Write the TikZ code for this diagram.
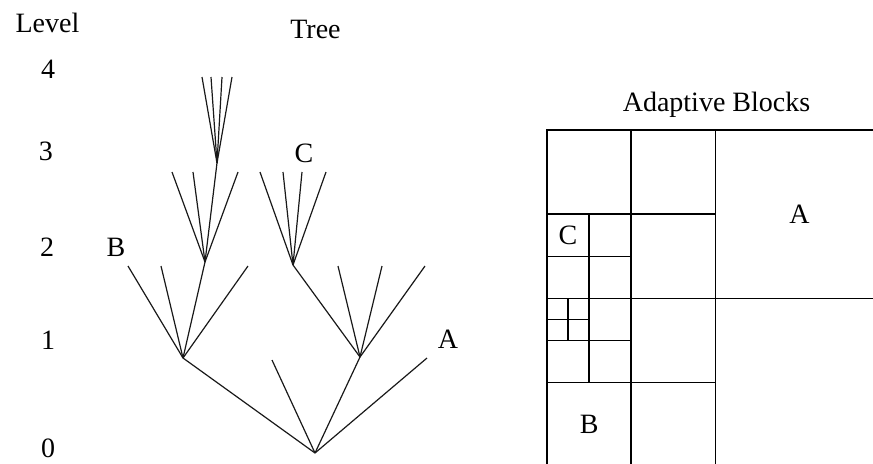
\documentclass[tikz,border=0pt]{standalone}
\usepackage{fontspec}
\setmainfont{Liberation Serif}
\begin{document}
\begin{tikzpicture}[x=0.5pt,y=-0.5pt,
  lbl/.style={inner sep=0pt,font=\fontsize{14}{16}\selectfont},
  edge/.style={line width=0.6pt,black!90},
  blk/.style={line width=0.8pt,black}]
\useasboundingbox (0,0) rectangle (873,463);
\clip (0,0) rectangle (873,463);
% ---------- labels ----------
\node[lbl] (level) at (47.5,23) {Level};
\node[lbl] (lv4) at (48,69.5) {4};
\node[lbl] (lv3) at (46,151) {3};
\node[lbl] (lv2) at (47,247) {2};
\node[lbl] (lv1) at (48,340) {1};
\node[lbl] (lv0) at (48,448) {0};
\node[lbl] (tree) at (315.5,29) {Tree};
\node[lbl] (lB) at (116,247) {B};
\node[lbl] (lA) at (448,339) {A};
\node[lbl] (lC) at (304,153) {C};
% ---------- tree ----------
\coordinate (r0) at (315,453);
\coordinate (n1a) at (183,358);
\coordinate (e01) at (272,360);
\coordinate (n1b) at (360,357);
\coordinate (e02) at (427,358);
\coordinate (e1a1) at (128,266);
\coordinate (e1a2) at (161,266);
\coordinate (n2a) at (205,262);
\coordinate (e1a4) at (248,266);
\coordinate (n2b) at (293,265);
\coordinate (e1b2) at (338,266);
\coordinate (e1b3) at (382,266);
\coordinate (e1b4) at (425,266);
\coordinate (e2a1) at (172,172);
\coordinate (e2a2) at (193,172);
\coordinate (n3a) at (217,163);
\coordinate (e2a4) at (238,172);
\coordinate (e2b1) at (260,172);
\coordinate (e2b2) at (283,172);
\coordinate (e2b3) at (302,172);
\coordinate (e2b4) at (326,172);
\coordinate (e3a1) at (202,77);
\coordinate (e3a2) at (211,77);
\coordinate (e3a3) at (222,77);
\coordinate (e3a4) at (232,77);
\draw[edge] (r0) -- (n1a);
\draw[edge] (r0) -- (e01);
\draw[edge] (r0) -- (n1b);
\draw[edge] (r0) -- (e02);
\draw[edge] (n1a) -- (e1a1);
\draw[edge] (n1a) -- (e1a2);
\draw[edge] (n1a) -- (n2a);
\draw[edge] (n1a) -- (e1a4);
\draw[edge] (n1b) -- (n2b);
\draw[edge] (n1b) -- (e1b2);
\draw[edge] (n1b) -- (e1b3);
\draw[edge] (n1b) -- (e1b4);
\draw[edge] (n2a) -- (e2a1);
\draw[edge] (n2a) -- (e2a2);
\draw[edge] (n2a) -- (n3a);
\draw[edge] (n2a) -- (e2a4);
\draw[edge] (n2b) -- (e2b1);
\draw[edge] (n2b) -- (e2b2);
\draw[edge] (n2b) -- (e2b3);
\draw[edge] (n2b) -- (e2b4);
\draw[edge] (n3a) -- (e3a1);
\draw[edge] (n3a) -- (e3a2);
\draw[edge] (n3a) -- (e3a3);
\draw[edge] (n3a) -- (e3a4);
% ---------- adaptive blocks ----------
\node[lbl] (title) at (716.5,105) {Adaptive Blocks};
\draw[blk] (547,130) rectangle (883.8,466.8);
\draw[blk] (631.2,130) -- (631.2,466.8);
\draw[blk] (715.4,130) -- (715.4,466.8);
\draw[blk] (547,214.2) -- (715.4,214.2);
\draw[blk] (547,298.4) -- (883.8,298.4);
\draw[blk] (547,382.6) -- (715.4,382.6);
\draw[blk] (589.1,214.2) -- (589.1,382.6);
\draw[blk] (547,256.3) -- (631.2,256.3);
\draw[blk] (547,340.5) -- (631.2,340.5);
\draw[blk] (568.05,298.4) -- (568.05,340.5);
\draw[blk] (547,319.45) -- (589.1,319.45);
\node[lbl] (bA) at (799.6,214.2) {A};
\node[lbl] (bB) at (589.1,424.7) {B};
\node[lbl] (bC) at (568.05,235.25) {C};
\end{tikzpicture}
\end{document}
